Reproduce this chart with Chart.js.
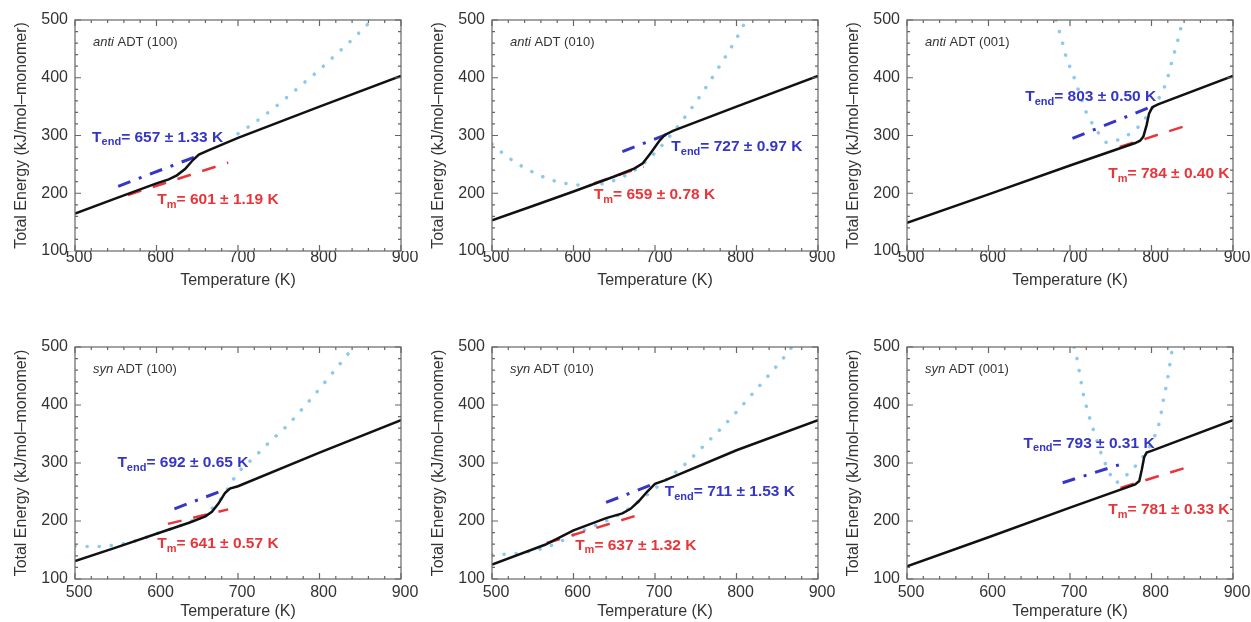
<!DOCTYPE html>
<html>
<head>
<meta charset="utf-8">
<script src="https://cdn.jsdelivr.net/npm/chart.js@4.4.1/dist/chart.umd.min.js"></script>
<style>
  body { margin: 0; background: #fff; width: 1251px; height: 622px; overflow: hidden; position: relative; }
  canvas { position: absolute; }
</style>
</head>
<body>
<script>
// tick values
const tempTicks = [500, 600, 700, 800, 900];
const energyTicks = [100, 200, 300, 400, 500];

// panel names (italic part, rest)
const panelNames = [
  ['anti', ' ADT (100)'], ['anti', ' ADT (010)'], ['anti', ' ADT (001)'],
  ['syn', ' ADT (100)'], ['syn', ' ADT (010)'], ['syn', ' ADT (001)']
];
const tendLabels = ['657 ± 1.33 K', '727 ± 0.97 K', '803 ± 0.50 K', '692 ± 0.65 K', '711 ± 1.53 K', '793 ± 0.31 K'];
const tmLabels = ['601 ± 1.19 K', '659 ± 0.78 K', '784 ± 0.40 K', '641 ± 0.57 K', '637 ± 1.32 K', '781 ± 0.33 K'];

// total energy vs temperature [T, E]
const anti100Energy = [[500,165],[550,191],[600,217],[615,224],[625,231],[635,242],[645,258],[652,267],[665,275],[700,296],[800,350],[900,403]];
const anti010Energy = [[500,153],[550,178],[600,203],[650,229],[675,243],[685,252],[695,270],[705,290],[712,301],[722,308],[800,350],[900,403]];
const anti001Energy = [[500,149],[600,198],[700,248],[780,287],[786,291],[790,298],[794,318],[797,338],[801,349],[808,354],[900,403]];
const syn100Energy = [[500,131],[550,154],[600,178],[640,197],[660,208],[668,216],[676,230],[684,248],[690,256],[700,260],[800,318],[900,374]];
const syn010Energy = [[500,125],[565,159],[600,184],[640,205],[660,213],[670,221],[680,234],[690,250],[700,264],[712,270],[800,322],[900,374]];
const syn001Energy = [[500,122],[600,172],[700,223],[780,263],[785,269],[788,288],[791,310],[794,318],[800,321],[900,374]];

// liquid-branch fits (dash-dot)
const anti100Liquid = [[553,212],[653,266]];
const anti010Liquid = [[660,272],[718,304]];
const anti001Liquid = [[703,295],[800,350]];
const syn100Liquid = [[622,221],[684,254]];
const syn010Liquid = [[640,232],[697,263]];
const syn001Liquid = [[691,266],[765,299]];

// solid-branch fits (dashed)
const anti100Solid = [[565,197],[688,253]];
const anti010Solid = [[625,217],[686,246]];
const anti001Solid = [[761,280],[849,320]];
const syn100Solid = [[614,195],[688,220]];
const syn010Solid = [[567,162],[688,214]];
const syn001Solid = [[762,257],[849,295]];

// dotted curves
const anti100Dotted = [[700,303],[720,322],[740,343],[760,366],[780,390],[800,414],[820,440],[840,466],[860,494],[864,500]];
const anti010Dotted = [[500,285],[520,262],[540,244],[560,230],[580,220],[600,215],[620,214],[640,218],[660,228],[680,245],[700,270],[720,302],[740,338],[760,378],[780,422],[800,468],[812,500]];
const anti001Dotted = [[683,500],[690,465],[696,432],[702,412],[710,380],[720,340],[730,315],[740,295],[745,288],[760,293],[780,310],[790,325],[800,345],[810,367],[819,396],[825,428],[835,480],[838,500]];
const syn100Dotted = [[500,157],[520,156],[540,157],[560,161],[580,168],[600,178],[640,198],[660,212],[680,240],[700,283],[720,310],[740,338],[760,364],[780,395],[800,428],[820,462],[840,496],[843,500]];
const syn010Dotted = [[500,142],[520,143],[540,146],[560,152],[580,162],[600,176],[620,188],[640,200],[660,214],[680,234],[700,256],[720,278],[740,302],[760,330],[780,358],[800,388],[820,420],[840,452],[860,485],[868,500]];
const syn001Dotted = [[705,500],[708,484],[716,421],[724,378],[732,343],[740,310],[748,285],[755,266],[770,280],[790,312],[800,335],[810,372],[814,405],[820,447],[824,484],[826,500]];

const FONT = '"Liberation Sans", Arial, Helvetica, sans-serif';
const plotLeft = [75, 492, 907];
const rowTop = [20, 347];
const plotH = [231, 232];
const xAxisH = [49, 43];
const xTickPad = [-3, 4];
const xTitlePad = [10, 1];

const panels = [
  { energy: anti100Energy, liquid: anti100Liquid, solid: anti100Solid, dotted: anti100Dotted, tendAt: [521, 297], tmAt: [601, 188] },
  { energy: anti010Energy, liquid: anti010Liquid, solid: anti010Solid, dotted: anti010Dotted, tendAt: [720, 281], tmAt: [625, 197] },
  { energy: anti001Energy, liquid: anti001Liquid, solid: anti001Solid, dotted: anti001Dotted, tendAt: [645, 367], tmAt: [747, 234] },
  { energy: syn100Energy, liquid: syn100Liquid, solid: syn100Solid, dotted: syn100Dotted, tendAt: [552, 300], tmAt: [601, 161] },
  { energy: syn010Energy, liquid: syn010Liquid, solid: syn010Solid, dotted: syn010Dotted, tendAt: [712, 250], tmAt: [602, 158] },
  { energy: syn001Energy, liquid: syn001Liquid, solid: syn001Solid, dotted: syn001Dotted, tendAt: [643, 334], tmAt: [747, 219] }
];

function toXY(arr) { return arr.map(p => ({ x: p[0], y: p[1] })); }

function drawT(ctx, x, y, sub, rest, color) {
  ctx.fillStyle = color;
  ctx.textBaseline = 'middle';
  ctx.textAlign = 'left';
  ctx.font = 'bold 15.5px ' + FONT;
  ctx.fillText('T', x, y);
  let w = ctx.measureText('T').width;
  ctx.font = 'bold 11px ' + FONT;
  ctx.fillText(sub, x + w, y + 5);
  w += ctx.measureText(sub).width;
  ctx.font = 'bold 15.5px ' + FONT;
  ctx.fillText('= ' + rest, x + w, y);
}

function framePlugin(i) {
  return {
    id: 'frame' + i,
    afterDatasetsDraw(chart) {
      const { ctx, chartArea: a, scales: { x, y } } = chart;
      const p = panels[i];
      ctx.save();
      ctx.strokeStyle = '#666';
      ctx.lineWidth = 1.2;
      ctx.strokeRect(a.left, a.top, a.right - a.left, a.bottom - a.top);
      ctx.beginPath();
      for (let v = tempTicks[0]; v <= tempTicks[tempTicks.length - 1]; v += 20) {
        const px = x.getPixelForValue(v);
        const len = v % 100 === 0 ? 6 : 3;
        ctx.moveTo(px, a.bottom); ctx.lineTo(px, a.bottom - len);
        ctx.moveTo(px, a.top); ctx.lineTo(px, a.top + len);
      }
      for (let v = energyTicks[0]; v <= energyTicks[energyTicks.length - 1]; v += 20) {
        const py = y.getPixelForValue(v);
        const len = v % 100 === 0 ? 6 : 3;
        ctx.moveTo(a.left, py); ctx.lineTo(a.left + len, py);
        ctx.moveTo(a.right, py); ctx.lineTo(a.right - len, py);
      }
      ctx.stroke();

      // panel name
      const nx = x.getPixelForValue(522), ny = y.getPixelForValue(461);
      ctx.fillStyle = '#333';
      ctx.textBaseline = 'middle';
      ctx.textAlign = 'left';
      ctx.font = 'italic 13px ' + FONT;
      ctx.fillText(panelNames[i][0], nx, ny);
      const w = ctx.measureText(panelNames[i][0]).width;
      ctx.font = '13px ' + FONT;
      ctx.fillText(panelNames[i][1], nx + w, ny);

      drawT(ctx, x.getPixelForValue(p.tendAt[0]), y.getPixelForValue(p.tendAt[1]), 'end', tendLabels[i], '#3535c8');
      drawT(ctx, x.getPixelForValue(p.tmAt[0]), y.getPixelForValue(p.tmAt[1]), 'm', tmLabels[i], '#e8353a');
      ctx.restore();
    }
  };
}

panels.forEach((p, i) => {
  const col = i % 3, row = Math.floor(i / 3);
  const cv = document.createElement('canvas');
  const w = 75 + 326 + 20, h = 20 + plotH[row] + xAxisH[row];
  cv.width = w; cv.height = h;
  cv.style.left = (plotLeft[col] - 75) + 'px';
  cv.style.top = (rowTop[row] - 20) + 'px';
  document.body.appendChild(cv);

  new Chart(cv.getContext('2d'), {
    type: 'line',
    data: {
      datasets: [
        { data: toXY(p.energy), borderColor: '#111', borderWidth: 2.5, pointRadius: 0, tension: 0 },
        { data: toXY(p.liquid), borderColor: '#3535c8', borderWidth: 3, borderDash: [13, 9, 3, 9], pointRadius: 0 },
        { data: toXY(p.solid), borderColor: '#e8353a', borderWidth: 2.5, borderDash: [14, 12], pointRadius: 0 },
        { data: toXY(p.dotted), borderColor: '#8cc9ea', borderWidth: 3.5, borderDash: [0.1, 12], borderCapStyle: 'round', pointRadius: 0, cubicInterpolationMode: 'monotone' }
      ]
    },
    options: {
      responsive: false,
      animation: false,
      devicePixelRatio: 1,
      layout: { padding: { top: 20, right: 20, left: 0, bottom: 0 } },
      plugins: { legend: { display: false }, tooltip: { enabled: false } },
      elements: { line: { fill: false } },
      scales: {
        x: {
          type: 'linear', min: tempTicks[0], max: tempTicks[tempTicks.length - 1],
          afterBuildTicks: s => { s.ticks = tempTicks.map(v => ({ value: v })); },
          ticks: { font: { size: 16, family: FONT }, color: '#333', padding: xTickPad[row], labelOffset: 4, maxRotation: 0, autoSkip: false },
          grid: { display: false, drawTicks: false },
          border: { display: false },
          title: { display: true, text: 'Temperature (K)', color: '#333', font: { size: 16, family: FONT }, padding: { top: 0, bottom: xTitlePad[row] } },
          afterFit: s => { s.height = xAxisH[row]; }
        },
        y: {
          type: 'linear', min: energyTicks[0], max: energyTicks[energyTicks.length - 1],
          afterBuildTicks: s => { s.ticks = energyTicks.map(v => ({ value: v })); },
          ticks: { font: { size: 16, family: FONT }, color: '#333', padding: 7 },
          grid: { display: false, drawTicks: false },
          border: { display: false },
          title: { display: true, text: 'Total Energy (kJ/mol–monomer)', color: '#333', font: { size: 16, family: FONT }, padding: { top: 12, bottom: 0 } },
          afterFit: s => { s.width = 75; }
        }
      }
    },
    plugins: [framePlugin(i)]
  });
});
</script>
</body>
</html>
